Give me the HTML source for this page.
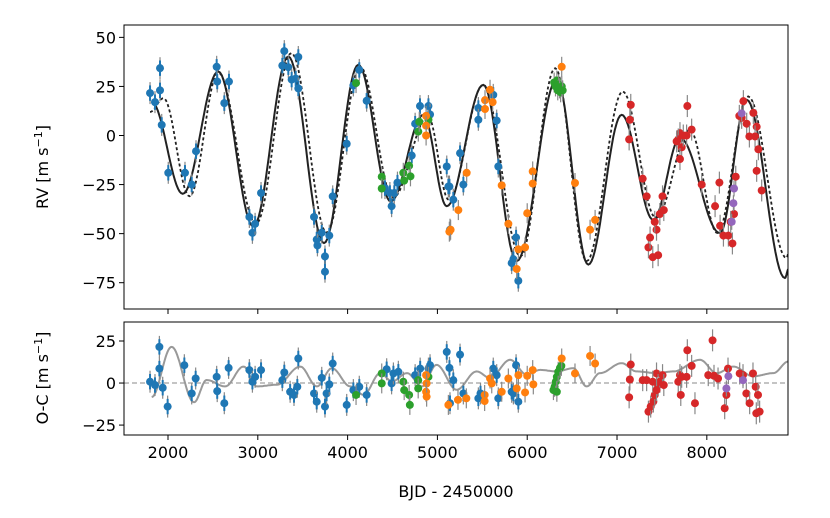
<!DOCTYPE html>
<html><head><meta charset="utf-8"><style>
html,body{margin:0;padding:0;background:#fff;}
svg text{font-family:"DejaVu Sans","Liberation Sans",sans-serif;fill:#000;}
</style></head><body>
<svg id="chart" width="830" height="513" viewBox="0 0 830 513" xmlns="http://www.w3.org/2000/svg">
<rect x="0" y="0" width="830" height="513" fill="#fff"/>
<defs>
<clipPath id="clipTop"><rect x="124" y="25" width="664" height="284"/></clipPath>
<clipPath id="clipBot"><rect x="124" y="322" width="664" height="113"/></clipPath>
</defs>
<g id="topPanel"></g>
<g id="botPanel"></g>
<text x="456" y="497" font-size="16" text-anchor="middle">BJD - 2450000</text>
<text transform="translate(48,167) rotate(-90)" font-size="16" text-anchor="middle">RV [m s<tspan baseline-shift="super" font-size="11">−1</tspan>]</text>
<text transform="translate(48,378) rotate(-90)" font-size="16" text-anchor="middle">O-C [m s<tspan baseline-shift="super" font-size="11">−1</tspan>]</text>
</svg>
<script>
// ---- data ----
const xTicks = [2000,3000,4000,5000,6000,7000,8000];
const rvTicks = [50,25,0,-25,-50,-75];
const ocTicks = [25,0,-25];
// model curves: extremum keypoints [BJD, RV]
const modelSolid = [[1818,17],[2164,-29.7],[2560,32.6],[2950,-46.3],[3340,40.2],[3737,-54.8],[4119,36],[4480,-33.6],[4843,10.5],[5104,-36],[5511,25.8],[5883,-64],[6328,28.4],[6680,-65.8],[7052,10.5],[7404,-43],[7701,-1.3],[8146,-49.7],[8444,18.2],[8870,-72.6],[8910,-68]];
const modelDotted = [[1800,12],[1950,19],[2240,-31],[2560,32],[2980,-45],[3375,42],[3767,-49.5],[4140,35],[4505,-31.7],[4895,9.7],[5125,-32.7],[5511,25.8],[5924,-61.6],[6312,34.3],[6661,-64],[7063,22.4],[7433,-42],[7812,2.9],[8117,-49.7],[8461,19.9],[8887,-62.4],[8910,-60]];
const ocCurve = [[1818,-8.3],[2040,21.5],[2290,-11.4],[2430,1.8],[2637,-2],[2841,9.8],[2990,-2],[3212,-1],[3472,9.8],[3658,-2],[3825,8.8],[4030,-2],[4178,-7],[4364,5.9],[4494,1],[4661,5.9],[4828,-2],[4990,10.8],[5214,-4],[5437,6.9],[5586,3],[5809,13.8],[5995,5],[6143,7.8],[6328,6.9],[6514,8.8],[6662,-2],[6810,5.9],[7052,11.8],[7218,6.9],[7441,5.9],[7627,6.9],[7924,13.8],[8110,5.9],[8295,9.8],[8518,4],[8741,5.9],[8908,12.8]];
// RV data [BJD, RV]
const rvBlue = [[1800,21.6],[1855,17],[1911,34.3],[1911,23],[1930,5.4],[2003,-19],[2189,-19],[2264,-25],[2312,-8],[2542,35],[2548,27.5],[2627,16.5],[2679,27.5],[2906,-41.5],[2940,-49.6],[2970,-45],[3036,-29.3],[3273,35.6],[3295,43],[3340,34.8],[3377,28.5],[3422,29],[3451,40],[3451,24],[3626,-41.5],[3656,-53],[3664,-56],[3712,-49.5],[3748,-61.6],[3748,-69.4],[3796,-51],[3834,-31],[3990,-4.2],[4064,25.5],[4130,33.4],[4212,17.7],[4416,-26.8],[4471,-29.3],[4490,-36],[4520,-29.3],[4555,-24],[4714,-10.2],[4752,6],[4806,15],[4900,15],[4918,10.7],[5104,-15.8],[5122,-26],[5134,-26],[5177,-32.7],[5252,-9],[5289,-25],[5140,-48],[5456,14],[5456,8],[5622,20.7],[5660,7.6],[5678,-15.8],[5827,-65],[5876,-52],[5901,-74],[5846,-63]];
const rvOrange = [[4874,10],[4874,5],[4874,0],[5133,-49],[5586,23.3],[5530,18],[5615,17],[5530,13.5],[5326,-19],[5233,-38],[5147,-48],[5716,-25.4],[5790,-45],[5902,-58],[5976,-57],[5883,-68],[6000,-39.6],[6061,-18.3],[6061,-24.5],[6384,35],[6532,-24.2],[6700,-48],[6756,-43]];
const rvGreen = [[4094,26.7],[4380,-21],[4380,-27],[4620,-19],[4630,-23],[4685,-15.4],[4700,-20.8],[4787,2],[4798,7],[4900,8],[6300,27],[6315,25],[6330,28],[6340,23],[6350,26],[6360,24],[6372,22],[6385,25],[6395,23]];
const rvRed = [[7153,15.6],[7143,8],[7135,-2],[7286,-22],[7330,-31],[7350,-57],[7398,-62],[7440,-48],[7477,-40],[7507,-31],[7521,-38],[7420,-44],[7368,-52],[7458,-61],[7701,1.2],[7682,-2],[7720,-6],[7738,0],[7783,15],[7831,3],[7701,-12],[7664,-3],[7775,0],[7943,-25],[8140,-24],[8092,-36],[8148,-46],[8185,-51],[8240,-51],[8285,-55],[8303,-40],[8322,-21],[8266,-44],[8388,9],[8407,17.5],[8362,10],[8444,6],[8518,11.5],[8555,4.5],[8474,-0.5],[8537,-0.5],[8574,-7],[8555,-18],[8611,-28]];
const rvPurple = [[8388,11.3],[8303,-27],[8296,-34.5],[8277,-44]];
// residuals [BJD, O-C]
const ocBlue = [[1800,0.8],[1855,-1.2],[1904,21.5],[1904,8.6],[1941,-2.8],[1996,-14],[2182,10.6],[2264,-6.2],[2308,2.7],[2542,3.7],[2548,-4.8],[2627,-12],[2675,9],[2906,7.7],[2940,0.8],[2970,3.7],[3036,7.7],[3273,1.7],[3295,6.3],[3360,-5.2],[3403,-7.1],[3440,-2.2],[3451,14.6],[3626,-6.2],[3656,-11.1],[3712,3.1],[3748,-14],[3766,-6.2],[3796,-0.8],[3834,11.6],[3990,-13],[4064,-4.2],[4130,-2.2],[4212,-7.1],[4435,8.2],[4490,-0.2],[4510,5.7],[4565,6.7],[4752,4.7],[4808,8.6],[4900,8.6],[4918,10.6],[5104,18.5],[5134,9],[5177,1.7],[5252,16.9],[5289,-6.2],[5140,-12],[5456,-9.1],[5480,-6.2],[5622,8.6],[5660,4.7],[5678,-9.1],[5827,-5.2],[5876,10.6],[5901,-11.1],[5846,-6.2]];
const ocOrange = [[4874,4.7],[4880,-0.2],[4874,-5.2],[4880,-8.1],[5122,-13],[5229,-10],[5322,-9.1],[5526,-7.1],[5526,-10.7],[5586,2.7],[5605,-0.2],[5716,-5.2],[5790,2.7],[5883,-3.2],[5902,4.7],[5976,-5.6],[6000,4.3],[6061,7.7],[6068,-0.8],[6384,14.6],[6532,5.7],[6700,16.1],[6756,11.6]];
const ocGreen = [[4094,-7.1],[4380,5.7],[4380,-0.2],[4620,0.8],[4630,-4.2],[4685,-7.1],[4693,-13],[4786,1.7],[4786,-3.2],[4900,3.7],[6292,-4.2],[6305,-2.2],[6318,0.8],[6330,3.7],[6345,6.7],[6365,9],[6380,10.2],[6330,-5.2]];
const ocRed = [[7153,11],[7143,2.1],[7135,-8.5],[7286,1.7],[7330,1.7],[7350,-17],[7375,-14],[7405,-11],[7420,-7.1],[7440,5.7],[7458,-1.2],[7477,0.8],[7507,4.7],[7521,-1.2],[7398,0.8],[7440,-4.2],[7701,4.7],[7682,0.8],[7720,3.7],[7710,-7.1],[7783,19.5],[7775,3.7],[7831,10.2],[7868,-12],[8064,25.4],[8016,4.7],[8080,4.3],[8125,2.7],[8199,-15],[8218,-7.1],[8236,8.6],[8366,5.7],[8403,4.7],[8440,-6.2],[8477,-12],[8514,5.7],[8544,-2.2],[8551,-18],[8588,-17],[8570,-7.1]];
const ocPurple = [[8240,4.1],[8218,-3.2],[8403,1.7]];

// ---- axes ----
const L=124,R=788, XMIN=1510, XMAX=8904;
const T1=25,B1=309, Y1MAX=56.3, Y1MIN=-88.4;
const T2=322,B2=435, Y2MAX=36.3, Y2MIN=-30.9;
const sx=v=>L+(v-XMIN)/(XMAX-XMIN)*(R-L);
const sy1=v=>T1+(Y1MAX-v)/(Y1MAX-Y1MIN)*(B1-T1);
const sy2=v=>T2+(Y2MAX-v)/(Y2MAX-Y2MIN)*(B2-T2);
const NS="http://www.w3.org/2000/svg";
function mk(tag,parent,attrs){const e=document.createElementNS(NS,tag);for(const k in attrs)e.setAttribute(k,attrs[k]);parent.appendChild(e);return e;}
const topPanel=document.getElementById('topPanel'), botPanel=document.getElementById('botPanel');

function keyPath(pts,sy){
  let d='';
  for(let i=0;i<pts.length-1;i++){
    const [x0,y0]=pts[i],[x1,y1]=pts[i+1];
    for(let k=0;k<=20;k++){
      const t=k/20, x=x0+(x1-x0)*t, y=y0+(y1-y0)*(1-Math.cos(Math.PI*t))/2;
      d+=(d?'L':'M')+sx(x).toFixed(1)+','+sy(y).toFixed(1);
    }
  }
  return d;
}
function drawPoints(g,arr,sy,color,name,err){
  arr.forEach(p=>{
    const x=sx(p[0]),y=sy(p[1]);
    const eb=mk('line',g,{x1:x,x2:x,y1:y-err,y2:y+err,stroke:'#888','stroke-width':1.2});
    
    
    if(color==='#1f77b4'){
      const e2=mk('line',g,{x1:x,x2:x,y1:y-err*0.7,y2:y+err*0.7,stroke:color,'stroke-width':2});
      
      
    }
    const c=mk('circle',g,{cx:x,cy:y,r:4,fill:color});
    
    
  });
}
function axes(g,T,B,sy,ticks,showXLabels){
  xTicks.forEach(v=>{
    const t=mk('line',g,{x1:sx(v),x2:sx(v),y1:B,y2:B+5,stroke:'#000','stroke-width':1});
    
    
    if(showXLabels){
      const tx=mk('text',g,{x:sx(v),y:B+23,'font-size':16,'text-anchor':'middle'});
      tx.textContent=v;
      
      
    }
  });
  ticks.forEach(v=>{
    const t=mk('line',g,{x1:L-5,x2:L,y1:sy(v),y2:sy(v),stroke:'#000','stroke-width':1});
    
    
    const tx=mk('text',g,{x:L-8,y:sy(v)+6,'font-size':16,'text-anchor':'end'});
    tx.textContent=v<0?'−'+(-v):v;
    
    
  });
}
axes(topPanel,T1,B1,sy1,rvTicks,false);
axes(botPanel,T2,B2,sy2,ocTicks,true);

// top panel
const gt=mk('g',topPanel,{'clip-path':'url(#clipTop)'});
const dot=mk('path',gt,{d:keyPath(modelDotted,sy1),fill:'none',stroke:'#222','stroke-width':1.8,'stroke-dasharray':'3,2.5'});


const sol=mk('path',gt,{d:keyPath(modelSolid,sy1),fill:'none',stroke:'#222','stroke-width':2});


drawPoints(gt,rvBlue,sy1,'#1f77b4','rv-blue',11);
drawPoints(gt,rvGreen,sy1,'#2ca02c','rv-green',10);
drawPoints(gt,rvOrange,sy1,'#ff7f0e','rv-orange',10);
drawPoints(gt,rvRed,sy1,'#d62728','rv-red',11);
drawPoints(gt,rvPurple,sy1,'#9467bd','rv-purple',8);
const f1=mk('rect',topPanel,{x:L,y:T1,width:R-L,height:B1-T1,fill:'none',stroke:'#000','stroke-width':1});



// bottom panel
const gb=mk('g',botPanel,{'clip-path':'url(#clipBot)'});
const zl=mk('line',gb,{x1:L,x2:R,y1:sy2(0),y2:sy2(0),stroke:'#888','stroke-width':1,'stroke-dasharray':'5,3'});


const oc=mk('path',gb,{d:keyPath(ocCurve,sy2),fill:'none',stroke:'#999','stroke-width':2});


drawPoints(gb,ocBlue,sy2,'#1f77b4','oc-blue',11);
drawPoints(gb,ocGreen,sy2,'#2ca02c','oc-green',10);
drawPoints(gb,ocOrange,sy2,'#ff7f0e','oc-orange',10);
drawPoints(gb,ocRed,sy2,'#d62728','oc-red',11);
drawPoints(gb,ocPurple,sy2,'#9467bd','oc-purple',8);
const f2=mk('rect',botPanel,{x:L,y:T2,width:R-L,height:B2-T2,fill:'none',stroke:'#000','stroke-width':1});


</script>
</body></html>
